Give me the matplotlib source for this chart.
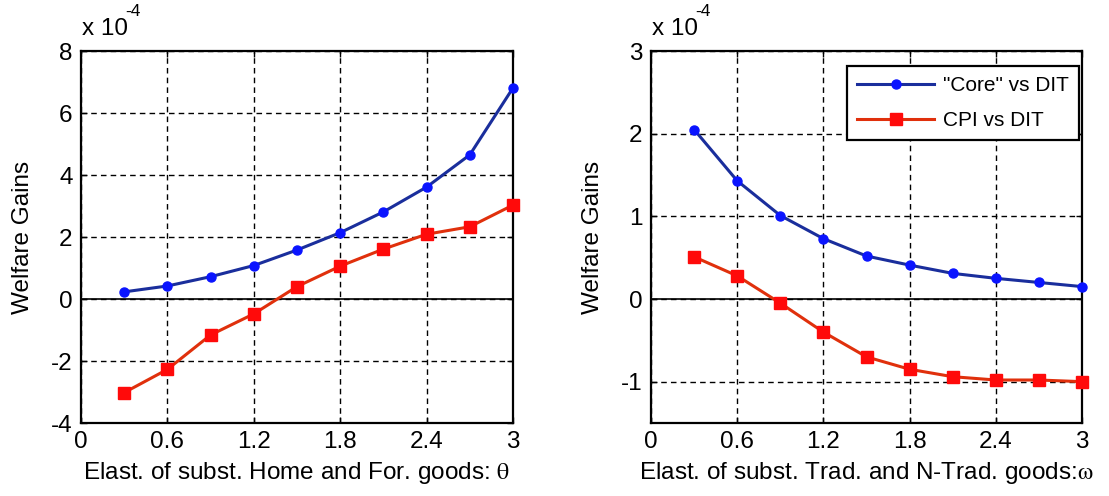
import matplotlib
matplotlib.use("Agg")
import matplotlib.pyplot as plt
import numpy as np

plt.rcParams['font.family'] = ['Liberation Sans', 'DejaVu Sans']
plt.rcParams['axes.unicode_minus'] = False

# Elasticity grid (both panels)
elasticity = [0.3, 0.6, 0.9, 1.2, 1.5, 1.8, 2.1, 2.4, 2.7, 3.0]

# Left panel: elasticity between Home and Foreign goods (theta), units of 1e-4
core_theta = [0.23, 0.42, 0.72, 1.08, 1.58, 2.14, 2.81, 3.61, 4.65, 6.81]
cpi_theta = [-3.02, -2.27, -1.16, -0.48, 0.40, 1.06, 1.61, 2.09, 2.33, 3.03]

# Right panel: elasticity between Traded and Non-traded goods (omega), units of 1e-4
core_omega = [2.05, 1.43, 1.01, 0.73, 0.52, 0.41, 0.31, 0.25, 0.20, 0.15]
cpi_omega = [0.51, 0.28, -0.05, -0.40, -0.70, -0.85, -0.94, -0.98, -0.98, -1.00]

xticks = [0, 0.6, 1.2, 1.8, 2.4, 3]
xticklabels = ['0', '0.6', '1.2', '1.8', '2.4', '3']
left_yticks = [-4, -2, 0, 2, 4, 6, 8]
right_yticks = [-1, 0, 1, 2, 3]

series_labels = ['"Core" vs DIT', 'CPI vs DIT']

BLUE_LINE = '#1a2e9c'
BLUE_MARK = '#0a14ff'
RED_LINE = '#e0300c'
RED_MARK = '#ff0a0a'

fig = plt.figure(figsize=(11.09, 4.96), dpi=100)
W, H = 1109, 496
ax1 = fig.add_axes([81 / W, 1 - 423 / H, (513 - 81) / W, (423 - 51) / H])
ax2 = fig.add_axes([651 / W, 1 - 423 / H, (1082 - 651) / W, (423 - 51) / H])

FS = 17.5


def style_axis(ax, yticks, ylim, xlabel_text, greek):
    ax.set_xlim(0, 3)
    ax.set_ylim(*ylim)
    ax.set_xticks(xticks)
    ax.set_xticklabels(xticklabels)
    ax.set_yticks(yticks)
    ax.tick_params(direction='in', length=4, width=1, labelsize=FS,
                   top=True, right=True, pad=6)
    ax.grid(True, color='black', linestyle=(0, (4, 3)), linewidth=1)
    ax.axhline(0, color='black', linewidth=1.2, zorder=1.5)
    for sp in ax.spines.values():
        sp.set_linewidth(1.6)
    ax.set_ylabel('Welfare Gains', fontsize=FS, labelpad=12)
    ax.set_xlabel(xlabel_text + r'$\mathrm{' + greek + '}$', fontsize=FS,
                  labelpad=5, math_fontfamily='stix')
    # Exponent scale marker above the y axis
    ax.text(0.002, 1.03, 'x 10', transform=ax.transAxes, fontsize=FS,
            ha='left', va='bottom')
    ax.text(0.103, 1.085, '-4', transform=ax.transAxes, fontsize=12.5,
            ha='left', va='bottom')


for ax, core, cpi in [(ax1, core_theta, cpi_theta), (ax2, core_omega, cpi_omega)]:
    ax.plot(elasticity, core, color=BLUE_LINE, linewidth=2.2, marker='o',
            markersize=6.5, markerfacecolor=BLUE_MARK, markeredgecolor=BLUE_MARK,
            label=series_labels[0], zorder=3, clip_on=False)
    ax.plot(elasticity, cpi, color=RED_LINE, linewidth=2.2, marker='s',
            markersize=8, markerfacecolor=RED_MARK, markeredgecolor=RED_MARK,
            label=series_labels[1], zorder=3, clip_on=False)

style_axis(ax1, left_yticks, (-4, 8), 'Elast. of subst. Home and For. goods: ', r'\theta')
style_axis(ax2, right_yticks, (-1.5, 3), 'Elast. of subst. Trad. and N-Trad. goods:', r'\omega')

leg = ax2.legend(loc='upper right', bbox_to_anchor=(1 - 3 / 431, 1 - 15 / 372),
                 borderaxespad=0, fontsize=15,
                 handlelength=3.7, handletextpad=0.4, borderpad=0.5,
                 labelspacing=0.75,
                 fancybox=False, framealpha=1, edgecolor='black')
leg.get_frame().set_linewidth(1.6)

fig.savefig('out.png', dpi=100)
